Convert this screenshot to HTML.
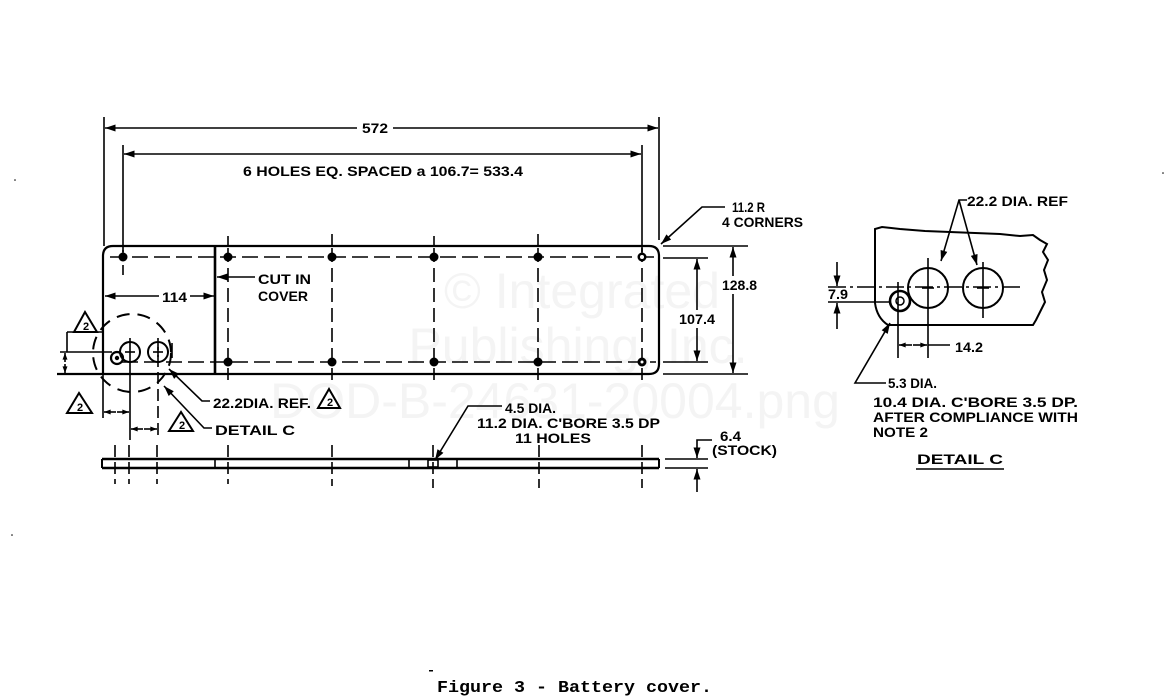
<!DOCTYPE html>
<html><head><meta charset="utf-8"><style>
html,body{margin:0;padding:0;background:#fff;}
svg{display:block;}
.t{font-family:"Liberation Sans",Arial,sans-serif;font-weight:bold;font-size:14px;fill:#000;}
.w{font-family:"Liberation Sans",Arial,sans-serif;font-size:50px;fill:#f4f4f4;}
.c{font-family:"Liberation Mono","Courier New",monospace;font-weight:bold;font-size:17px;fill:#000;}
</style></head><body>
<svg width="1170" height="697" viewBox="0 0 1170 697" xmlns="http://www.w3.org/2000/svg">
<defs>
<marker id="a" viewBox="0 0 12 8" refX="12" refY="4" markerWidth="12" markerHeight="7" markerUnits="userSpaceOnUse" orient="auto-start-reverse"><path d="M0,0 L12,4 L0,8 z" fill="#000"/></marker>
<marker id="s" viewBox="0 0 8 6" refX="8" refY="3" markerWidth="7" markerHeight="5" markerUnits="userSpaceOnUse" orient="auto-start-reverse"><path d="M0,0 L8,3 L0,6 z" fill="#000"/></marker>
</defs>

<!-- watermark -->
<text class="w" x="582" y="308" text-anchor="middle">© Integrated</text>
<text class="w" x="578" y="363" text-anchor="middle">Publishing, Inc.</text>
<text class="w" x="555" y="418" text-anchor="middle">DOD-B-24631-20004.png</text>

<g stroke="#000" fill="none" stroke-width="1.6">
<!-- top dimensions -->
<line x1="104" y1="117" x2="104" y2="246"/>
<line x1="659" y1="117" x2="659" y2="240"/>
<line x1="123" y1="145" x2="123" y2="252"/>
<line x1="642" y1="145" x2="642" y2="252"/>
<line x1="357" y1="128" x2="105" y2="128" marker-end="url(#a)"/>
<line x1="393" y1="128" x2="658" y2="128" marker-end="url(#a)"/>
<line x1="300" y1="154" x2="124" y2="154" marker-end="url(#a)"/>
<line x1="300" y1="154" x2="641" y2="154" marker-end="url(#a)"/>

<!-- plate plan view -->
<path d="M57,374 L649,374 Q659,374 659,364 L659,256 Q659,246 649,246 L113,246 Q103,246 103,256 L103,374" stroke-width="2.2"/>
<line x1="215" y1="246" x2="215" y2="374" stroke-width="2.6"/>
<!-- ticks above holes -->
<line x1="228" y1="236" x2="228" y2="246"/>
<line x1="332" y1="234" x2="332" y2="246"/>
<line x1="434" y1="236" x2="434" y2="246"/>
<line x1="538" y1="234" x2="538" y2="246"/>
<!-- center lines -->
<line x1="110" y1="257" x2="656" y2="257" stroke-dasharray="16,6"/>
<line x1="122" y1="362" x2="656" y2="362" stroke-dasharray="16,6"/>
<line x1="228" y1="248" x2="228" y2="380" stroke-dasharray="14,6"/>
<line x1="332" y1="248" x2="332" y2="380" stroke-dasharray="14,6"/>
<line x1="434" y1="248" x2="434" y2="380" stroke-dasharray="14,6"/>
<line x1="538" y1="248" x2="538" y2="380" stroke-dasharray="14,6"/>
<line x1="642" y1="248" x2="642" y2="380" stroke-dasharray="14,6"/>
<line x1="123" y1="250" x2="123" y2="280" stroke-dasharray="10,5"/>

<!-- right dims -->
<line x1="663" y1="246" x2="748" y2="246"/>
<line x1="663" y1="374" x2="748" y2="374"/>
<line x1="663" y1="258" x2="708" y2="258"/>
<line x1="663" y1="362" x2="708" y2="362"/>
<line x1="733" y1="276" x2="733" y2="247" marker-end="url(#a)"/>
<line x1="733" y1="294" x2="733" y2="373" marker-end="url(#a)"/>
<line x1="697" y1="310" x2="697" y2="259" marker-end="url(#a)"/>
<line x1="697" y1="328" x2="697" y2="361" marker-end="url(#a)"/>
<path d="M725,207 L702,207 L661,244" marker-end="url(#a)"/>

<!-- 114 and cut in cover -->
<line x1="159" y1="296" x2="105" y2="296" marker-end="url(#a)"/>
<line x1="190" y1="296" x2="214" y2="296" marker-end="url(#a)"/>
<line x1="255" y1="277" x2="217" y2="277" marker-end="url(#a)"/>

<!-- left detail -->
<line x1="67" y1="332" x2="103" y2="332"/>
<line x1="67" y1="332" x2="67" y2="352"/>
<line x1="60" y1="352" x2="112" y2="352"/>
<line x1="65" y1="362" x2="65" y2="353" marker-end="url(#s)"/>
<line x1="65" y1="364" x2="65" y2="373" marker-end="url(#s)"/>
<circle cx="117" cy="358" r="6" stroke-width="2.2"/>
<circle cx="130" cy="352" r="10" stroke-width="2"/>
<circle cx="158" cy="352" r="10" stroke-width="2"/>
<line x1="125" y1="352" x2="135" y2="352"/>
<line x1="153" y1="352" x2="163" y2="352"/>
<line x1="158" y1="347" x2="158" y2="357"/>
<line x1="130" y1="338" x2="130" y2="440"/>
<line x1="158" y1="338" x2="158" y2="440" stroke-dasharray="12,5"/>
<line x1="172" y1="343" x2="172" y2="358"/>
<circle cx="132" cy="353" r="39" stroke-width="2" stroke-dasharray="13,8"/>
<line x1="103" y1="374" x2="103" y2="418"/>
<line x1="116" y1="412" x2="104" y2="412" marker-end="url(#s)"/>
<line x1="117" y1="412" x2="129" y2="412" marker-end="url(#s)"/>
<line x1="143" y1="429" x2="131" y2="429" marker-end="url(#s)"/>
<line x1="144" y1="429" x2="157" y2="429" marker-end="url(#s)"/>
<path d="M210,401 L202,401 L169,369" marker-end="url(#a)"/>
<path d="M212,428 L204,428 L164,386" marker-end="url(#a)"/>

<!-- side view -->
<line x1="102" y1="459" x2="659" y2="459" stroke-width="2.4"/>
<line x1="102" y1="468" x2="659" y2="468" stroke-width="2.4"/>
<line x1="102" y1="459" x2="102" y2="468" stroke-width="2"/>
<line x1="659" y1="459" x2="659" y2="468" stroke-width="2"/>
<line x1="215" y1="459" x2="215" y2="468"/>
<line x1="409" y1="459" x2="409" y2="468"/>
<line x1="457" y1="459" x2="457" y2="468"/>
<rect x="428" y="460" width="10" height="7" stroke-width="1.6"/>
<g stroke-dasharray="12,5">
<line x1="115" y1="445" x2="115" y2="484"/>
<line x1="129" y1="445" x2="129" y2="484"/>
<line x1="157" y1="445" x2="157" y2="484"/>
<line x1="228" y1="445" x2="228" y2="484"/>
<line x1="332" y1="445" x2="332" y2="486"/>
<line x1="433" y1="445" x2="433" y2="488"/>
<line x1="539" y1="445" x2="539" y2="488"/>
<line x1="642" y1="445" x2="642" y2="488"/>
</g>
<path d="M502,406 L468,406 L435,460" marker-end="url(#a)"/>
<line x1="665" y1="459" x2="708" y2="459"/>
<line x1="665" y1="468" x2="708" y2="468"/>
<path d="M712,440 L697,440 L697,458" marker-end="url(#a)"/>
<line x1="697" y1="492" x2="697" y2="469" marker-end="url(#a)"/>

<!-- detail C (right) -->
<path d="M888,325 Q877,318 875,303 L875,229 L882,227 L900,229 L925,231 L950,232 L975,233 L1000,234 L1020,236 L1033,235 L1040,240 L1047,244 L1043,252 L1048,260 L1044,270 L1047,280 L1042,292 L1045,302 L1040,312 L1036,320 L1033,325 Z" stroke-width="2"/>
<circle cx="928" cy="288" r="20" stroke-width="2"/>
<circle cx="983" cy="288" r="20" stroke-width="2"/>
<circle cx="900" cy="301" r="10" stroke-width="2.6"/>
<circle cx="900" cy="301" r="4" stroke-width="1.5"/>
<line x1="828" y1="287" x2="1020" y2="287" stroke-dasharray="18,4,3,4"/>
<line x1="928" y1="258" x2="928" y2="358"/>
<line x1="983" y1="262" x2="983" y2="318"/>
<line x1="898" y1="282" x2="898" y2="358"/>
<line x1="922" y1="288" x2="934" y2="288"/>
<line x1="977" y1="288" x2="989" y2="288"/>
<line x1="828" y1="302" x2="890" y2="302"/>
<line x1="837" y1="262" x2="837" y2="286" marker-end="url(#a)"/>
<line x1="837" y1="329" x2="837" y2="303" marker-end="url(#a)"/>
<line x1="912" y1="345" x2="899" y2="345" marker-end="url(#s)"/>
<line x1="913" y1="345" x2="927" y2="345" marker-end="url(#s)"/>
<line x1="928" y1="345" x2="950" y2="345"/>
<path d="M967,200 L959,200 L941,261" marker-end="url(#a)"/>
<path d="M959,200 L977,265" marker-end="url(#a)"/>
<path d="M886,383 L855,383 L890,323" marker-end="url(#a)"/>
<line x1="916" y1="469" x2="1004" y2="469" stroke-width="1.6"/>

<!-- delta triangles -->
<polygon points="85,312 74,332 97,332" stroke-width="2"/>
<polygon points="79,393 67,413 92,413" stroke-width="2"/>
<polygon points="181,412 169,431 193,431" stroke-width="2"/>
<polygon points="329,389 318,408 340,408" stroke-width="2"/>
</g>

<!-- holes -->
<g fill="#000">
<circle cx="123" cy="257" r="4.5"/><circle cx="228" cy="257" r="4.5"/><circle cx="332" cy="257" r="4.5"/>
<circle cx="434" cy="257" r="4.5"/><circle cx="538" cy="257" r="4.5"/><circle cx="642" cy="257" r="4.5"/>
<circle cx="228" cy="362" r="4.5"/><circle cx="332" cy="362" r="4.5"/><circle cx="434" cy="362" r="4.5"/>
<circle cx="538" cy="362" r="4.5"/><circle cx="642" cy="362" r="4.5"/>
<circle cx="117" cy="358" r="2.2"/>
<circle cx="15" cy="180" r="0.8"/><circle cx="1163" cy="173" r="0.8"/><circle cx="12" cy="535" r="0.8"/>
<rect x="429" y="670" width="4" height="1.5"/>
</g>
<g fill="#fff"><circle cx="642" cy="257" r="2"/><circle cx="642" cy="362" r="1.5"/></g>

<!-- triangle numbers -->
<g class="t" style="font-size:11px" text-anchor="middle">
<text x="86" y="330">2</text>
<text x="80" y="411">2</text>
<text x="182" y="429">2</text>
<text x="330" y="406">2</text>
</g>

<!-- labels -->
<g class="t">
<text x="362" y="133" textLength="26" lengthAdjust="spacingAndGlyphs">572</text>
<text x="243" y="176" textLength="280" lengthAdjust="spacingAndGlyphs">6 HOLES EQ. SPACED a  106.7= 533.4</text>
<text x="732" y="212" textLength="33" lengthAdjust="spacingAndGlyphs">11.2 R</text>
<text x="722" y="227" textLength="81" lengthAdjust="spacingAndGlyphs">4 CORNERS</text>
<text x="722" y="290" textLength="35" lengthAdjust="spacingAndGlyphs">128.8</text>
<text x="679" y="324" textLength="36" lengthAdjust="spacingAndGlyphs">107.4</text>
<text x="162" y="302" textLength="25" lengthAdjust="spacingAndGlyphs">114</text>
<text x="258" y="284" textLength="53" lengthAdjust="spacingAndGlyphs">CUT IN</text>
<text x="258" y="301" textLength="50" lengthAdjust="spacingAndGlyphs">COVER</text>
<text x="213" y="408" textLength="98" lengthAdjust="spacingAndGlyphs">22.2DIA. REF.</text>
<text x="215" y="435" textLength="80" lengthAdjust="spacingAndGlyphs">DETAIL C</text>
<text x="505" y="413" textLength="51" lengthAdjust="spacingAndGlyphs">4.5 DIA.</text>
<text x="477" y="428" textLength="183" lengthAdjust="spacingAndGlyphs">11.2 DIA.  C'BORE 3.5 DP</text>
<text x="515" y="443" textLength="76" lengthAdjust="spacingAndGlyphs">11  HOLES</text>
<text x="720" y="441" textLength="21" lengthAdjust="spacingAndGlyphs">6.4</text>
<text x="712" y="455" textLength="65" lengthAdjust="spacingAndGlyphs">(STOCK)</text>
<text x="967" y="206" textLength="101" lengthAdjust="spacingAndGlyphs">22.2 DIA. REF</text>
<text x="828" y="299" textLength="20" lengthAdjust="spacingAndGlyphs">7.9</text>
<text x="955" y="352" textLength="28" lengthAdjust="spacingAndGlyphs">14.2</text>
<text x="888" y="388" textLength="49" lengthAdjust="spacingAndGlyphs">5.3 DIA.</text>
<text x="873" y="407" textLength="205" lengthAdjust="spacingAndGlyphs">10.4 DIA. C'BORE 3.5 DP.</text>
<text x="873" y="422" textLength="205" lengthAdjust="spacingAndGlyphs">AFTER COMPLIANCE WITH</text>
<text x="873" y="437" textLength="55" lengthAdjust="spacingAndGlyphs">NOTE 2</text>
<text x="917" y="464" textLength="86" lengthAdjust="spacingAndGlyphs">DETAIL  C</text>
</g>

<text class="c" x="437" y="692" textLength="275" lengthAdjust="spacingAndGlyphs">Figure 3 - Battery cover.</text>
</svg>
</body></html>
